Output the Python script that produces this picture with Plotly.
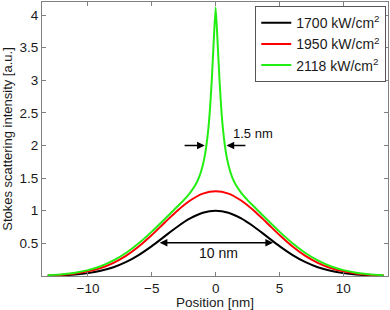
import plotly.graph_objects as go

# Position grid for the broad profiles [nm]
x_broad = [-13.15, -12, -11, -10, -9, -8, -7, -6, -5, -4, -3, -2, -1, 0,
           1, 2, 3, 4, 5, 6, 7, 8, 9, 10, 11, 12, 13.15]
black_1700 = [0.004, 0.011, 0.023, 0.044, 0.080, 0.135, 0.216, 0.325, 0.458, 0.607, 0.755, 0.882, 0.969, 1.000,
              0.969, 0.882, 0.755, 0.607, 0.458, 0.325, 0.216, 0.135, 0.080, 0.044, 0.023, 0.011, 0.004]
red_1950 = [0.008, 0.020, 0.039, 0.071, 0.123, 0.202, 0.313, 0.457, 0.629, 0.817, 1.001, 1.157, 1.263, 1.300,
            1.263, 1.157, 1.001, 0.817, 0.629, 0.457, 0.313, 0.202, 0.123, 0.071, 0.039, 0.020, 0.008]

# Denser grid around the narrow peak
x_green = [-13.15, -12, -11, -10, -9, -8, -7, -6, -5, -4, -3, -2.5, -2, -1.6, -1.3, -1.0, -0.8, -0.6, -0.45, -0.3, -0.15, 0,
           0.15, 0.3, 0.45, 0.6, 0.8, 1.0, 1.3, 1.6, 2, 2.5, 3, 4, 5, 6, 7, 8, 9, 10, 11, 12, 13.15]
green_2118 = [0.013, 0.028, 0.051, 0.090, 0.150, 0.238, 0.356, 0.505, 0.680, 0.871, 1.065, 1.164, 1.275, 1.390, 1.512,
              1.703, 1.899, 2.202, 2.540, 3.012, 3.596, 4.120,
              3.596, 3.012, 2.540, 2.202, 1.899, 1.703, 1.512, 1.390, 1.275, 1.164, 1.065, 0.871, 0.680, 0.505,
              0.356, 0.238, 0.150, 0.090, 0.051, 0.028, 0.013]

series_names = ["1700 kW/cm<sup>2</sup>", "1950 kW/cm<sup>2</sup>", "2118 kW/cm<sup>2</sup>"]
series_colors = ["#000000", "#ff0000", "#22ee11"]

x_ticks = [-10, -5, 0, 5, 10]
y_ticks = [0.5, 1, 1.5, 2, 2.5, 3, 3.5, 4]
y_tick_labels = ["0.5", "1", "1.5", "2", "2.5", "3", "3.5", "4"]

FONT = "Liberation Sans, Arial, sans-serif"

fig = go.Figure()
fig.add_trace(go.Scatter(x=x_broad, y=black_1700, mode="lines", name=series_names[0],
                         line=dict(color=series_colors[0], width=2, shape="spline")))
fig.add_trace(go.Scatter(x=x_broad, y=red_1950, mode="lines", name=series_names[1],
                         line=dict(color=series_colors[1], width=2, shape="spline")))
fig.add_trace(go.Scatter(x=x_green, y=green_2118, mode="lines", name=series_names[2],
                         line=dict(color=series_colors[2], width=2, shape="spline", smoothing=0.5)))

# Arrows and labels
arrow_kw = dict(showarrow=True, arrowcolor="#000000", arrowwidth=1.4, arrowhead=2, arrowsize=1.1,
                xref="x", yref="y", axref="x", ayref="y", text="")
fig.add_annotation(x=-0.85, y=2.0, ax=-2.55, ay=2.0, **arrow_kw)
fig.add_annotation(x=0.85, y=2.0, ax=2.45, ay=2.0, **arrow_kw)
fig.add_annotation(x=4.5, y=0.51, ax=-4.5, ay=0.51, arrowside="end+start", startarrowhead=2,
                   startarrowsize=1.1, **arrow_kw)
fig.add_annotation(x=2.95, y=2.18, text="1.5 nm", showarrow=False, xref="x", yref="y",
                   font=dict(family=FONT, size=13, color="#111111"))
fig.add_annotation(x=0.2, y=0.35, text="10 nm", showarrow=False, xref="x", yref="y",
                   font=dict(family=FONT, size=14, color="#111111"))

axis_common = dict(showgrid=False, zeroline=False, showline=True, linecolor="#808080", linewidth=1,
                   mirror="ticks", ticks="inside", ticklen=4, tickcolor="#808080", automargin=False,
                   tickfont=dict(family=FONT, size=13.5, color="#1a1a1a"))

fig.update_layout(
    width=390, height=310,
    margin=dict(l=42, r=2, t=2, b=34),
    paper_bgcolor="white", plot_bgcolor="white",
    font=dict(family=FONT, size=14, color="#1a1a1a"),
    showlegend=True,
    legend=dict(x=0.995, y=0.985, xanchor="right", yanchor="top", bgcolor="white",
                bordercolor="#555555", borderwidth=1, itemwidth=30,
                font=dict(family=FONT, size=14, color="#1a1a1a"), tracegroupgap=0),
)
fig.update_xaxes(range=[-13.6, 13.5], tickvals=x_ticks,
                 title=dict(text="Position [nm]", font=dict(family=FONT, size=13.5), standoff=3),
                 **axis_common)
fig.update_yaxes(range=[0, 4.2], tickvals=y_ticks, ticktext=y_tick_labels,
                 title=dict(text="Stokes scattering intensity [a.u.]", font=dict(family=FONT, size=13), standoff=5),
                 **axis_common)

fig.write_html("out.html", config={"displayModeBar": False},
               post_script="document.body.style.margin='0';")
